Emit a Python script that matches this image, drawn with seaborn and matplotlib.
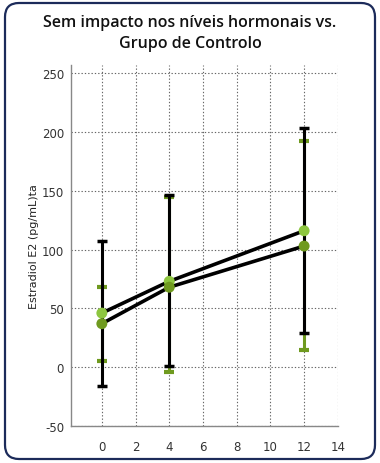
import numpy as np
import pandas as pd
import matplotlib
matplotlib.use('Agg')
import matplotlib.pyplot as plt
import seaborn as sns
from matplotlib.patches import FancyBboxPatch


# data (semanas vs estradiol)
weeks = [0, 4, 12]
light_mean = [46, 73, 116]
light_low = [-16, 1, 29]
light_high = [107, 146, 203]
dark_mean = [37, 68, 103]
dark_low = [5, -4, 15]
dark_high = [68, 145, 192]

TITLE = 'Sem impacto nos níveis hormonais vs.\nGrupo de Controlo'
YLABEL = 'Estradiol E2 (pg/mL)ta'
LIGHT = '#8dc63f'
DARK = '#6f9a1f'
NARROW = ['Liberation Sans Narrow', 'DejaVu Sans']


sns.set_style('white')
plt.rcParams['font.family'] = ['Open Sans', 'DejaVu Sans']
plt.rcParams['axes.unicode_minus'] = False

df = pd.DataFrame({
	'week': weeks * 2,
	'value': light_mean + dark_mean,
	'group': ['light'] * 3 + ['dark'] * 3,
})

fig = plt.figure(figsize = (3.8, 4.64), dpi = 100)
ax = fig.add_axes([0.1868, 0.0797, 0.889 - 0.1868, 0.858 - 0.0797])

# error bars: dark group (green) below, light group (black) on top
dm = np.array(dark_mean)
lm = np.array(light_mean)
ax.errorbar(weeks, dm, yerr = [dm - np.array(dark_low), np.array(dark_high) - dm], fmt = 'none',
			ecolor = DARK, elinewidth = 2.2, capsize = 3.5, capthick = 3, zorder = 2)
ax.errorbar(weeks, lm, yerr = [lm - np.array(light_low), np.array(light_high) - lm], fmt = 'none',
			ecolor = 'black', elinewidth = 2.2, capsize = 3.5, capthick = 2.5, zorder = 3)

sns.lineplot(data = df, x = 'week', y = 'value', units = 'group', estimator = None,
			 color = 'black', linewidth = 2.6, ax = ax, zorder = 4, legend = False)
sns.scatterplot(data = df, x = 'week', y = 'value', hue = 'group', palette = {'light': LIGHT, 'dark': DARK},
				s = 62, linewidth = 0, ax = ax, zorder = 5, legend = False)

ax.set_xlim(-1.83, 14)
ax.set_ylim(-50, 257)
ax.set_xticks(range(0, 15, 2))
ax.set_yticks(range(-50, 251, 50))
ax.grid(True, linestyle = (0, (1.2, 1.8)), color = '#666666', linewidth = 0.8)
ax.set_axisbelow(True)

for side in ['top', 'right']:
	ax.spines[side].set_visible(False)
for side in ['left', 'bottom']:
	ax.spines[side].set_color('#888888')
	ax.spines[side].set_linewidth(1)

ax.tick_params(axis = 'both', direction = 'inout', length = 4, width = 0.8, color = '#888888',
			   labelsize = 8.5, labelcolor = '#333333', pad = 3)
ax.tick_params(axis = 'x', pad = 8)
for lab in ax.get_xticklabels() + ax.get_yticklabels():
	lab.set_family(NARROW)

ax.set_xlabel('')
ax.set_ylabel(YLABEL, fontsize = 8, color = '#222222', labelpad = 2, family = NARROW)

fig.text(0.5, 0.928, TITLE, ha = 'center', va = 'center', fontsize = 11.5, fontweight = 'semibold',
		 color = '#111111', linespacing = 1.45)

# rounded frame, in pixels
frame = FancyBboxPatch((5, 4), 370, 456, boxstyle = 'round,pad=0,rounding_size=14',
					   transform = None, facecolor = 'none', edgecolor = '#1c2b5a', linewidth = 1.6)
fig.add_artist(frame)

fig.savefig('out.png', dpi = 100)
